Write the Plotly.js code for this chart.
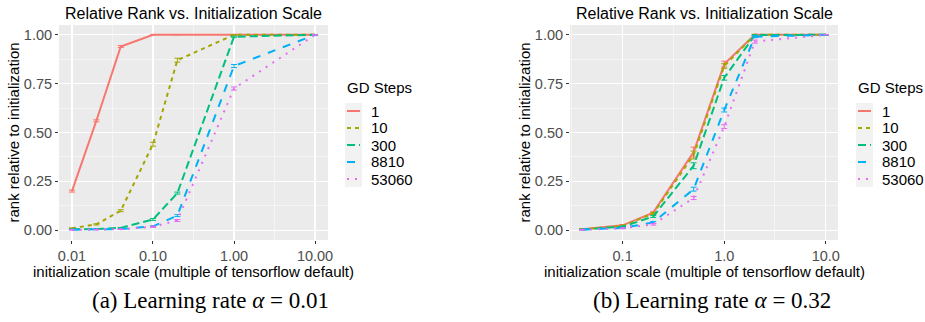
<!DOCTYPE html>
<html>
<head>
<meta charset="utf-8">
<script src="https://cdn.plot.ly/plotly-3.0.1.min.js"></script>
<style>html,body{margin:0;padding:0;background:#fff;}#plot{width:925px;height:322px;}</style>
</head>
<body>
<div id="plot"></div>
<script>
// ---- data ----
const stepLabels = ["1", "10", "300", "8810", "53060"];
const colors = ["#F8766D", "#A3A500", "#00BF7D", "#00B0F6", "#E76BF3"];
const dashes = ["solid", "4px,4px", "8px,4px", "8px,8px", "2px,6px"];

// Panel (a): learning rate 0.01
const scaleA = [0.01, 0.02, 0.04, 0.1, 0.2, 1.0, 10.0];
const rankA_1     = [0.20, 0.56, 0.94, 1.00, 1.00, 1.00, 1.00];
const rankA_10    = [0.010, 0.030, 0.100, 0.440, 0.870, 1.000, 1.000];
const rankA_300   = [0.005, 0.006, 0.012, 0.055, 0.190, 0.990, 1.000];
const rankA_8810  = [0.003, 0.004, 0.006, 0.020, 0.075, 0.840, 1.000];
const rankA_53060 = [0.002, 0.003, 0.005, 0.018, 0.050, 0.725, 1.000];
const errA_1     = [0.005, 0.005, 0.005, 0.000, 0.000, 0.000, 0.000];
const errA_10    = [0.002, 0.003, 0.005, 0.010, 0.010, 0.000, 0.000];
const errA_300   = [0.001, 0.001, 0.002, 0.005, 0.005, 0.003, 0.000];
const errA_8810  = [0.001, 0.001, 0.001, 0.003, 0.005, 0.008, 0.000];
const errA_53060 = [0.001, 0.001, 0.001, 0.003, 0.005, 0.008, 0.000];

// Panel (b): learning rate 0.32
const scaleB = [0.04, 0.1, 0.2, 0.5, 1.0, 2.0, 10.0];
const rankB_1     = [0.005, 0.025, 0.090, 0.400, 0.850, 1.000, 1.000];
const rankB_10    = [0.005, 0.022, 0.085, 0.385, 0.840, 1.000, 1.000];
const rankB_300   = [0.004, 0.018, 0.070, 0.330, 0.780, 0.998, 1.000];
const rankB_8810  = [0.003, 0.012, 0.040, 0.210, 0.615, 0.990, 1.000];
const rankB_53060 = [0.002, 0.010, 0.030, 0.165, 0.530, 0.965, 1.000];
const errB_1     = [0.002, 0.004, 0.005, 0.025, 0.015, 0.002, 0.000];
const errB_10    = [0.002, 0.004, 0.005, 0.020, 0.012, 0.002, 0.000];
const errB_300   = [0.002, 0.003, 0.005, 0.015, 0.012, 0.002, 0.000];
const errB_8810  = [0.001, 0.003, 0.005, 0.010, 0.010, 0.005, 0.000];
const errB_53060 = [0.001, 0.002, 0.004, 0.008, 0.010, 0.008, 0.000];

const ticksA = [0.01, 0.1, 1, 10];
const tickTextA = ["0.01", "0.10", "1.00", "10.00"];
const ticksB = [0.1, 1, 10];
const tickTextB = ["0.1", "1.0", "10.0"];
const ticksY = [0, 0.25, 0.5, 0.75, 1.0];
const tickTextY = ["0.00", "0.25", "0.50", "0.75", "1.00"];
const minorX = [0.00316, 0.0316, 0.316, 3.16, 31.6];
const minorY = [0.125, 0.375, 0.625, 0.875];

const panelTitle = "Relative Rank vs. Initialization Scale";
const xTitle = "initialization scale (multiple of tensorflow default)";
const yTitle = "rank relative to initialization";
const legendTitle = "GD Steps";
const captionA = "(a) Learning rate <i>α</i> = 0.01";
const captionB = "(b) Learning rate <i>α</i> = 0.32";

const ranksA = [rankA_1, rankA_10, rankA_300, rankA_8810, rankA_53060];
const errsA = [errA_1, errA_10, errA_300, errA_8810, errA_53060];
const ranksB = [rankB_1, rankB_10, rankB_300, rankB_8810, rankB_53060];
const errsB = [errB_1, errB_10, errB_300, errB_8810, errB_53060];

// ---- traces ----
const traces = [];
function addPanel(xs, ranks, errs, xa, ya) {
  for (let i = 0; i < stepLabels.length; i++) {
    traces.push({
      type: "scatter", mode: "lines",
      x: xs, y: ranks[i],
      xaxis: xa, yaxis: ya,
      name: stepLabels[i], showlegend: false,
      line: {color: colors[i], width: 2, dash: dashes[i]},
      error_y: {type: "data", array: errs[i], visible: true, color: colors[i], thickness: 1, width: 3},
      hoverinfo: "skip"
    });
  }
}
addPanel(scaleA, ranksA, errsA, "x", "y");
addPanel(scaleB, ranksB, errsB, "x2", "y2");

const H = 322, W = 925;
const py = v => (H - v) / H;   // pixel-from-top -> paper y
const px = v => v / W;         // pixel-from-left -> paper x
const yDom = [py(240), py(25)];
const FF = "Liberation Sans, Arial, sans-serif";
const TICK = 14.5, TTL = 15;

function xAxis(dom, range, tv, tt, anchor) {
  return {
    type: "log", domain: dom, range: range, anchor: anchor,
    tickmode: "array", tickvals: tv, ticktext: tt,
    showgrid: true, gridcolor: "#FFFFFF", gridwidth: 1.1,
    zeroline: false, showline: false,
    ticks: "outside", ticklen: 3, tickcolor: "#333333", tickwidth: 1,
    tickfont: {family: FF, size: TICK, color: "#4D4D4D"},
    minor: {tickmode: "array", tickvals: minorX, showgrid: true, gridcolor: "#FFFFFF", gridwidth: 0.5, ticks: ""},
    automargin: false, fixedrange: true
  };
}
function yAxis(anchor) {
  return {
    domain: yDom, range: [-0.05, 1.05], anchor: anchor,
    tickmode: "array", tickvals: ticksY, ticktext: tickTextY,
    showgrid: true, gridcolor: "#FFFFFF", gridwidth: 1.1,
    zeroline: false, showline: false,
    ticks: "outside", ticklen: 3, tickcolor: "#333333", tickwidth: 1,
    tickfont: {family: FF, size: TICK, color: "#4D4D4D"},
    minor: {tickmode: "array", tickvals: minorY, showgrid: true, gridcolor: "#FFFFFF", gridwidth: 0.5, ticks: ""},
    automargin: false, fixedrange: true
  };
}

const panels = [
  {x0: 59, x1: 328, legX: 345, caption: captionA, capX: 210},
  {x0: 570, x1: 838, legX: 856, caption: captionB, capX: 711.5}
];

const annotations = [];
const shapes = [];
function txt(text, x, y, size, opts) {
  annotations.push(Object.assign({
    text: text, xref: "paper", yref: "paper", x: px(x), y: py(y),
    xanchor: "center", yanchor: "middle", showarrow: false,
    font: {family: FF, size: size, color: "#000000"}
  }, opts || {}));
}
const entryY = [111, 128, 145, 162, 179];
panels.forEach(p => {
  const cx = (p.x0 + p.x1) / 2;
  txt(panelTitle, cx, 13, 16);
  txt(xTitle, cx, 271, TTL);
  txt(yTitle, p.x0 - 46, 132.5, TTL, {textangle: -90});
  txt(p.caption, p.capX, 300, 23, {font: {family: "Liberation Serif, Times New Roman, serif", size: 23, color: "#000000"}});
  // legend
  txt(legendTitle, p.legX, 88, 15, {xanchor: "left"});
  shapes.push({type: "rect", xref: "paper", yref: "paper", x0: px(p.legX), x1: px(p.legX + 17),
    y0: py(104 + 17 * stepLabels.length - 2), y1: py(103), fillcolor: "#F2F2F2", line: {width: 0}, layer: "below"});
  stepLabels.forEach((lab, i) => {
    shapes.push({type: "line", xref: "paper", yref: "paper", x0: px(p.legX + 2), x1: px(p.legX + 15),
      y0: py(entryY[i]), y1: py(entryY[i]), line: {color: colors[i], width: 2, dash: i === 0 ? "solid" : dashes[i]}});
    txt(lab, p.legX + 24, entryY[i], 15, {xanchor: "left"});
  });
});

const layout = {
  width: W, height: H,
  margin: {l: 0, r: 0, t: 0, b: 0},
  paper_bgcolor: "#FFFFFF",
  plot_bgcolor: "#EBEBEB",
  font: {family: FF},
  showlegend: false,
  xaxis: xAxis([px(59), px(328)], [-2.16, 1.16], ticksA, tickTextA, "y"),
  yaxis: yAxis("x"),
  xaxis2: xAxis([px(570), px(838)], [-1.518, 1.12], ticksB, tickTextB, "y2"),
  yaxis2: yAxis("x2"),
  annotations: annotations,
  shapes: shapes
};

Plotly.newPlot("plot", traces, layout, {staticPlot: true, displayModeBar: false});
</script>
</body>
</html>
